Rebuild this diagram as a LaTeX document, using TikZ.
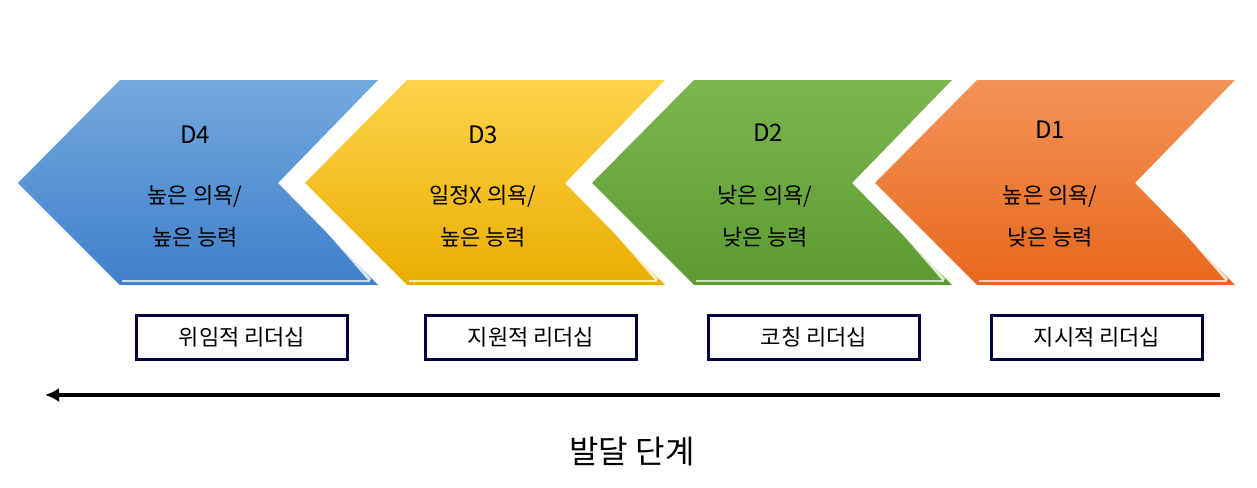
\documentclass[tikz,border=0pt]{standalone}
\usepackage{fontspec}
\setmainfont{Noto Sans CJK KR}
\usetikzlibrary{arrows.meta}
\begin{document}
\begin{tikzpicture}[x=1pt,y=-1pt,
  lbl/.style={font=\fontsize{22}{42}\selectfont,align=center,text=black},
  dl/.style={font=\fontsize{24}{28}\selectfont,text=black},
  lbox/.style={draw=black!75!blue,line width=3pt,fill=white,minimum width=211pt,minimum height=44pt,font=\fontsize{22}{26}\selectfont},
  hl/.style={white,line width=3pt,opacity=0.8}]
\useasboundingbox (0,0) rectangle (1257,487);
\definecolor{bt}{HTML}{72A9DE}\definecolor{bb}{HTML}{3F7FCB}
\definecolor{yt}{HTML}{FFD34A}\definecolor{yb}{HTML}{E9AE00}
\definecolor{gt}{HTML}{7DB64F}\definecolor{gb}{HTML}{5C9A32}
\definecolor{ot}{HTML}{F39358}\definecolor{ob}{HTML}{E8681C}
\foreach \x/\t/\b in {18/bt/bb,305/yt/yb,592/gt/gb,875/ot/ob}{
  \path[top color=\t,bottom color=\b] (\x,183) -- (\x+102,80) -- (\x+360,80) -- (\x+260,183) -- (\x+360,285) -- (\x+102,285) -- cycle;
  \draw[hl] (\x+268,183) -- (\x+352,280);
  \draw[white,line width=1.5pt,opacity=0.7] (\x+104,281) -- (\x+352,281);
}
\node[dl] (d4) at (195,135) {D4};
\node[dl] (d3) at (483,135) {D3};
\node[dl] (d2) at (768,133) {D2};
\node[dl] (d1) at (1050,130) {D1};
\node[lbl] (t4) at (195,216) {높은 의욕/\\높은 능력};
\node[lbl] (t3) at (483,216) {일정X 의욕/\\높은 능력};
\node[lbl] (t2) at (765,216) {낮은 의욕/\\낮은 능력};
\node[lbl] (t1) at (1050,216) {높은 의욕/\\낮은 능력};
\node[lbox] (b4) at (242,337) {위임적 리더십};
\node[lbox] (b3) at (531,337) {지원적 리더십};
\node[lbox] (b2) at (814,337) {코칭 리더십};
\node[lbox] (b1) at (1097,337) {지시적 리더십};
\coordinate (as) at (1220,395);
\coordinate (ae) at (45,395);
\draw[line width=4pt,-{Latex[length=14pt,width=14pt]}] (as) -- (ae);
\node[font=\fontsize{32}{36}\selectfont] (ax) at (632,452) {발달 단계};
\end{tikzpicture}
\end{document}
